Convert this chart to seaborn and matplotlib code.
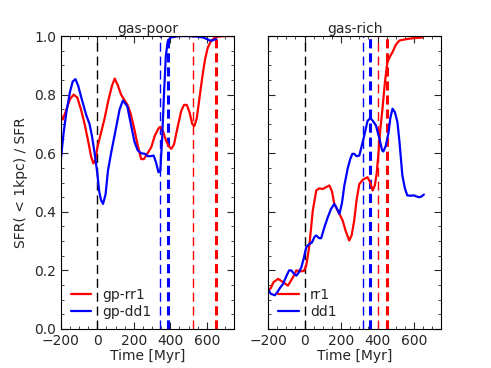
import matplotlib
matplotlib.use("Agg")
import matplotlib.pyplot as plt
from matplotlib.ticker import AutoMinorLocator, MultipleLocator
import pandas as pd
import seaborn as sns

# gas-poor panel
gp_rr1_t = [-200, -190, -175, -150, -130, -110, -90, -70, -50, -35, -22, -10, 0, 20, 40, 60, 80, 95,
            110, 130, 150, 165, 180, 200, 220, 240, 255, 275, 295, 315, 335, 345, 360, 375, 390, 405,
            420, 440, 460, 475, 490, 505, 520, 532, 545, 560, 575, 590, 605, 620, 640, 660, 700, 750]
gp_rr1_v = [0.73, 0.715, 0.74, 0.785, 0.80, 0.79, 0.75, 0.70, 0.64, 0.59, 0.565, 0.58, 0.62, 0.67,
            0.72, 0.78, 0.83, 0.855, 0.835, 0.80, 0.78, 0.765, 0.74, 0.69, 0.63, 0.58, 0.58, 0.60,
            0.62, 0.66, 0.685, 0.69, 0.675, 0.645, 0.625, 0.615, 0.63, 0.69, 0.745, 0.765, 0.765,
            0.74, 0.70, 0.693, 0.72, 0.79, 0.86, 0.92, 0.96, 0.98, 0.993, 0.998, 1.0, 1.0]

gp_dd1_t = [-200, -185, -170, -150, -135, -120, -105, -88, -61, -43, -30, -15, -1, 10, 20, 31, 45,
            58, 75, 94, 122, 140, 164, 185, 203, 221, 240, 260, 276, 292, 308, 321, 335, 345, 355,
            365, 375, 385, 400, 450, 500, 550, 580, 600, 615, 630, 650]
gp_dd1_v = [0.58, 0.67, 0.74, 0.81, 0.845, 0.853, 0.83, 0.79, 0.73, 0.70, 0.66, 0.60, 0.535, 0.47,
            0.44, 0.427, 0.46, 0.54, 0.60, 0.66, 0.75, 0.78, 0.76, 0.695, 0.64, 0.61, 0.60, 0.598,
            0.59, 0.59, 0.592, 0.57, 0.535, 0.54, 0.65, 0.80, 0.93, 0.98, 0.995, 1.0, 1.0, 0.998,
            0.995, 0.99, 0.985, 0.985, 0.99]

# gas-rich panel
rr1_t = [-200, -185, -170, -145, -118, -91, -64, -45, -20, -4, 9, 18, 27, 45, 64, 80, 100, 120, 136,
         150, 163, 185, 209, 225, 245, 258, 272, 285, 300, 320, 345, 360, 373, 385, 395, 405, 415,
         427, 440, 454, 468, 482, 500, 520, 563, 600, 645]
rr1_v = [0.13, 0.14, 0.16, 0.171, 0.16, 0.148, 0.176, 0.20, 0.197, 0.198, 0.216, 0.25, 0.29, 0.404,
         0.473, 0.48, 0.478, 0.485, 0.49, 0.47, 0.427, 0.40, 0.37, 0.335, 0.302, 0.32, 0.37, 0.44,
         0.495, 0.51, 0.518, 0.50, 0.473, 0.49, 0.53, 0.60, 0.68, 0.752, 0.84, 0.911, 0.93, 0.945,
         0.97, 0.985, 0.99, 0.993, 0.995]

dd1_t = [-200, -185, -163, -150, -135, -118, -100, -85, -73, -60, -45, -30, -18, -5, 9, 25, 40, 55,
         64, 80, 91, 110, 127, 145, 163, 178, 191, 205, 218, 227, 236, 250, 262, 272, 285, 300,
         315, 327, 345, 360, 375, 391, 410, 425, 432, 445, 460, 470, 482, 495, 509, 520, 536,
         550, 563, 580, 600, 615, 627, 640, 654]
dd1_v = [0.135, 0.12, 0.115, 0.125, 0.14, 0.154, 0.18, 0.20, 0.20, 0.19, 0.182, 0.195, 0.21, 0.24,
         0.279, 0.29, 0.295, 0.315, 0.319, 0.31, 0.31, 0.35, 0.381, 0.41, 0.427, 0.41, 0.393,
         0.43, 0.49, 0.518, 0.547, 0.58, 0.598, 0.598, 0.59, 0.592, 0.63, 0.66, 0.71, 0.72, 0.71,
         0.695, 0.65, 0.61, 0.606, 0.625, 0.67, 0.72, 0.752, 0.74, 0.706, 0.64, 0.524, 0.48,
         0.456, 0.455, 0.456, 0.452, 0.45, 0.452, 0.459]

# dashed markers: (time, colour, thick?)
gp_vlines = [(0, "k", False), (345, "b", False), (389, "b", True), (525, "r", False), (648, "r", True)]
gr_vlines = [(0, "k", False), (318, "b", False), (356, "b", True), (400, "r", False), (454, "r", True)]

sns.set_style("ticks", {"xtick.direction": "in", "ytick.direction": "in"})
plt.rcParams["font.family"] = ["DejaVu Sans"]
plt.rcParams["font.size"] = 10


def _draw_panel(ax, series, vlines, title):
    for t, c, thick in vlines:
        if thick:
            ax.axvline(t, color=c, lw=2.2, dashes=(3.0, 1.6))
        else:
            ax.axvline(t, color=c, lw=1.0, dashes=(6.5, 3.5))
    for t, v, c, lab in series:
        df = pd.DataFrame({"t": t, "v": v})
        sns.lineplot(data=df, x="t", y="v", ax=ax, color=c, lw=1.6, label=lab)
    ax.set_xlim(-200, 750)
    ax.set_ylim(0, 1)
    ax.xaxis.set_major_locator(MultipleLocator(200))
    ax.yaxis.set_major_locator(MultipleLocator(0.2))
    ax.xaxis.set_minor_locator(AutoMinorLocator(4))
    ax.yaxis.set_minor_locator(AutoMinorLocator(4))
    ax.tick_params(which="both", top=True, right=True, direction="in", labelsize=10)
    ax.tick_params(which="major", length=5)
    ax.tick_params(which="minor", length=2.5)
    for s in ax.spines.values():
        s.set_visible(True)
        s.set_color("black")
        s.set_linewidth(0.8)
    ax.set_title(title, fontsize=10, pad=2)
    ax.set_xlabel("Time [Myr]", fontsize=10, labelpad=1)
    ax.legend(loc="lower left", frameon=False, fontsize=10, handlelength=1.5,
              labelspacing=0.25, borderaxespad=0.3, handletextpad=0.8)


fig = plt.figure(figsize=(4.91, 3.68), dpi=100)
ax1 = fig.add_axes([0.124, 0.106, 0.353, 0.796])
ax2 = fig.add_axes([0.546, 0.106, 0.353, 0.796])

_draw_panel(ax1, [(gp_rr1_t, gp_rr1_v, "r", "gp-rr1"), (gp_dd1_t, gp_dd1_v, "b", "gp-dd1")],
            gp_vlines, "gas-poor")
_draw_panel(ax2, [(rr1_t, rr1_v, "r", "rr1"), (dd1_t, dd1_v, "b", "dd1")],
            gr_vlines, "gas-rich")

ax1.set_ylabel("SFR( < 1kpc) / SFR", fontsize=10)
ax2.set_ylabel("")
ax2.tick_params(labelleft=False)

fig.savefig("out.png", dpi=100)
plt.close(fig)
